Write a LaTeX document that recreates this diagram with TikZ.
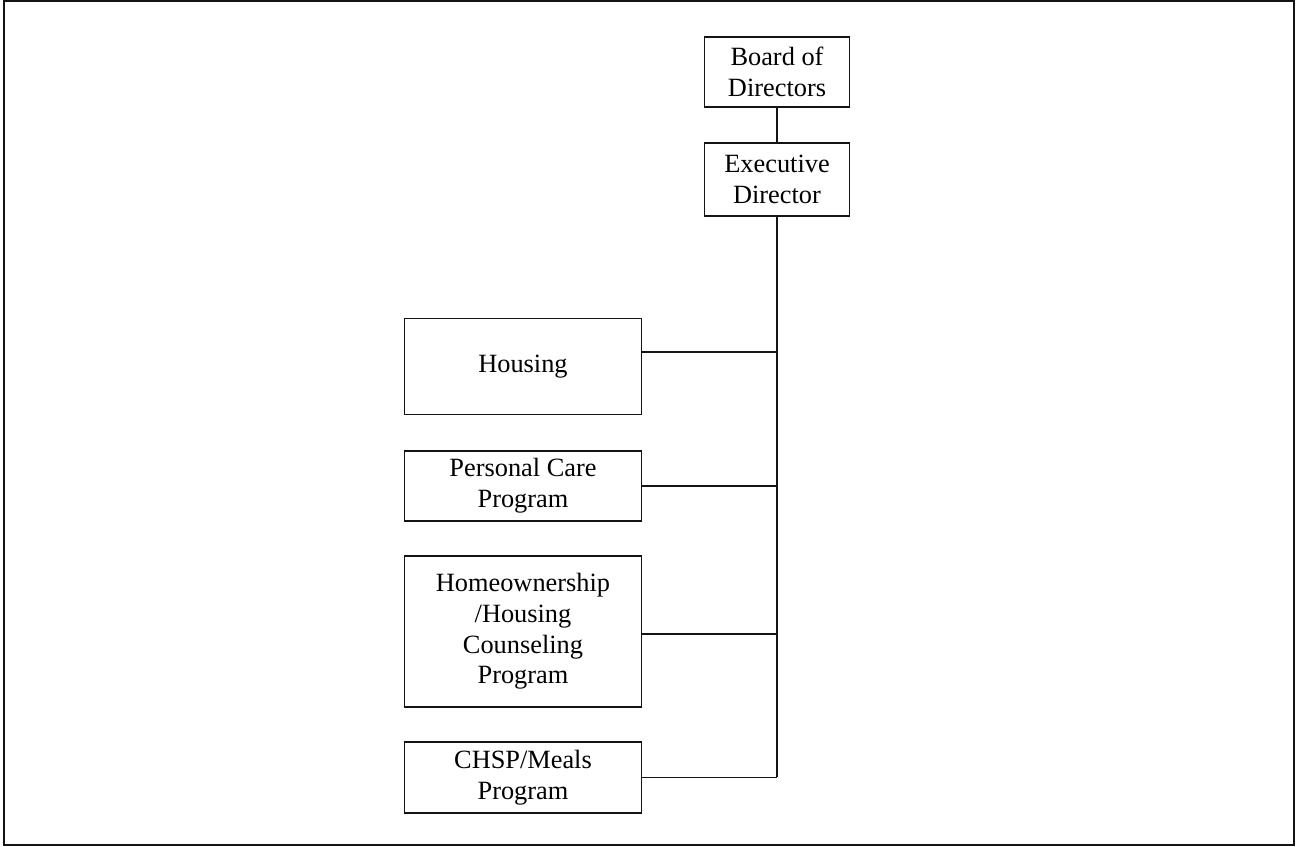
\documentclass[tikz,border=0pt]{standalone}
\usepackage{fontspec}
\setmainfont{Liberation Serif}
\usepackage{tikz}
\usetikzlibrary{positioning, calc}
\definecolor{mydark}{RGB}{20,20,20}
\tikzset{
  orgbox/.style={rectangle, draw=mydark, fill=white, align=center,
    inner sep=2pt, line width=0.9pt,
    font=\fontsize{15}{17.5}\selectfont},
  line/.style={line width=0.9pt, color=mydark}
}

\begin{document}
\begin{tikzpicture}[x=0.02cm, y=-0.02cm]
  \useasboundingbox (0,0) rectangle (1296,847);
  % Frame
  \draw[line] (4,1) rectangle (1294,845);

  % Top of the chart
  \node[orgbox, minimum width=2.9cm, minimum height=1.4cm] (bod) at (777, 72) {Board of\\Directors};
  \node[orgbox, minimum width=2.9cm, minimum height=1.46cm] (exd) at (777, 179.5) {Executive\\Director};

  % Programs
  \node[orgbox, minimum width=4.74cm, minimum height=1.92cm] (housing) at (523, 366.5) {Housing};
  \node[orgbox, minimum width=4.74cm, minimum height=1.4cm] (pcare) at (523, 486) {Personal Care\\Program};
  \node[orgbox, minimum width=4.74cm, minimum height=3.02cm] (homeown) at (523, 631.5) {Homeownership\\/Housing\\Counseling\\Program};
  \node[orgbox, minimum width=4.74cm, minimum height=1.42cm] (chsp) at (523, 777.5) {CHSP/Meals\\Program};

  % Junctions on the trunk
  \coordinate (j1) at (777, 352);
  \coordinate (j2) at (777, 486);
  \coordinate (j3) at (777, 634);
  \coordinate (j4) at (777, 777.5);

  % Connections
  \draw[line] (bod) -- (exd);
  \draw[line] (exd) -- (j4);
  \draw[line] (j1 -| housing.east) -- (j1);
  \draw[line] (pcare) -- (j2);
  \draw[line] (j3 -| homeown.east) -- (j3);
  \draw[line] (chsp) -- (j4);
\end{tikzpicture}
\end{document}
